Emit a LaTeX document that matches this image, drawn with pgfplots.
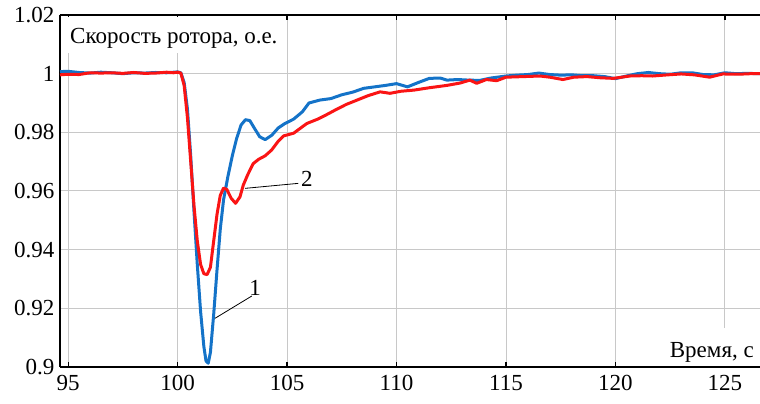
\documentclass[border=0pt]{standalone}
\usepackage{pgfplots}
\pgfplotsset{compat=1.18}
\usepackage{fontspec}
\setmainfont{Liberation Serif}

\definecolor{curveblue}{RGB}{20,115,200}
\definecolor{curvered}{RGB}{250,20,20}
\definecolor{gridgray}{RGB}{200,200,200}

\newcommand{\lbl}{\fontsize{23}{26}\selectfont}

\begin{document}
\begin{tikzpicture}
\begin{axis}[
    scale only axis,
    width=700pt, height=352pt,
    xmin=94.63, xmax=126.6,
    ymin=0.9, ymax=1.02,
    axis x line=box, axis y line=left,
    axis line style={-, line width=1.6pt, black},
    xtick={95,100,...,125},
    ytick={0.9,0.92,...,1.02},
    tick align=inside,
    major tick length=5pt,
    xtick style={line width=1.2pt, black},
    ytick style={draw=none},
    grid=major,
    major grid style={gridgray, line width=1pt},
    tick label style={font=\lbl},
    /pgf/number format/assume math mode=true,
    xticklabel style={yshift=-5pt},
    yticklabel style={xshift=-2pt},
]
\coordinate (bl) at (rel axis cs:0,0);
\coordinate (tr) at (rel axis cs:1,1);

\addplot[curveblue, line width=3pt, line join=round] coordinates {
(94.63,1.0007) (95.0,1.0008) (95.5,1.0004) (96.0,1.0002) (96.5,1.0005)
(97.0,1.0003) (97.5,1.0000) (98.0,1.0003) (98.5,1.0002) (99.0,1.0004)
(99.5,1.0003) (100.0,1.0006) (100.15,1.0003) (100.3,0.997) (100.45,0.988)
(100.6,0.972) (100.75,0.953) (100.9,0.935) (101.05,0.919) (101.2,0.907)
(101.3,0.902) (101.4,0.9013) (101.5,0.905) (101.65,0.918) (101.8,0.933)
(101.95,0.947) (102.1,0.957) (102.3,0.965) (102.5,0.972) (102.7,0.978)
(102.9,0.9825) (103.1,0.9843) (103.3,0.984) (103.5,0.9815) (103.75,0.9785)
(104.0,0.9775) (104.3,0.979) (104.6,0.9815) (104.9,0.983) (105.3,0.9845)
(105.7,0.987) (106.0,0.990) (106.5,0.991) (107.0,0.9915) (107.5,0.9928)
(108.0,0.9937) (108.5,0.995) (109.0,0.9955) (109.5,0.996) (110.0,0.9966)
(110.5,0.9955) (111.0,0.997) (111.5,0.9984) (112.0,0.9985) (112.3,0.9978)
(112.8,0.998) (113.3,0.9978) (113.8,0.9977) (114.3,0.9985) (115.0,0.9992)
(115.5,0.9995) (116.0,0.9997) (116.5,1.0002) (117.0,0.9997) (117.5,0.9995)
(118.0,0.9996) (118.5,0.9993) (119.0,0.9993) (119.5,0.999) (120.0,0.9983)
(120.5,0.9992) (121.0,1.0) (121.5,1.0004) (122.0,1.0) (122.5,0.9998)
(123.0,1.0003) (123.5,1.0003) (124.0,0.9997) (124.5,0.9996) (125.0,1.0003)
(125.5,1.0) (126.0,1.0001) (126.6,1.0)
};

\addplot[curvered, line width=3pt, line join=round] coordinates {
(94.63,0.9996) (95.0,0.9998) (95.5,0.9997) (96.0,1.0003) (96.5,1.0002)
(97.0,1.0003) (97.5,1.0001) (98.0,1.0004) (98.5,1.0001) (99.0,1.0002)
(99.5,1.0005) (99.8,1.0003) (100.0,1.0005) (100.15,1.0002) (100.3,0.996)
(100.45,0.985) (100.6,0.970) (100.75,0.955) (100.9,0.943) (101.05,0.935)
(101.2,0.9318) (101.35,0.9315) (101.5,0.934) (101.65,0.943) (101.8,0.952)
(101.95,0.9585) (102.1,0.961) (102.25,0.9605) (102.45,0.9575) (102.65,0.9558)
(102.85,0.958) (103.0,0.962) (103.2,0.9655) (103.45,0.9693) (103.7,0.9708)
(104.0,0.972) (104.3,0.974) (104.6,0.977) (104.85,0.9788) (105.3,0.9797)
(105.9,0.983) (106.4,0.9845) (106.8,0.986) (107.2,0.9876) (107.7,0.9895)
(108.2,0.991) (108.7,0.9925) (109.25,0.9938) (109.7,0.9933) (110.2,0.994)
(110.8,0.9944) (111.5,0.9952) (112.3,0.996) (112.9,0.9968) (113.35,0.9978)
(113.66,0.9967) (114.1,0.998) (114.57,0.9976) (115.0,0.9988) (115.8,0.999)
(116.55,0.9992) (117.0,0.9988) (117.6,0.998) (118.1,0.9988) (118.7,0.999)
(119.3,0.9986) (119.9,0.9984) (120.66,0.9992) (121.2,0.9993) (121.7,0.9992)
(122.4,0.9996) (123.0,0.9999) (123.6,0.9996) (124.3,0.9988) (124.9,0.9999)
(125.6,0.9998) (126.2,1.0) (126.6,1.0)
};

% white boxes behind the axis labels
\fill[white] (rel axis cs:0.003,0.892) rectangle (rel axis cs:0.323,0.995);
\node[anchor=base west, inner sep=0pt, font=\lbl]
    at (rel axis cs:0.0143,0.920) {Скорость ротора, о.е.};
\fill[white] (rel axis cs:0.857,0.004) rectangle (rel axis cs:1,0.111);
\node[anchor=base west, inner sep=0pt, font=\lbl]
    at (rel axis cs:0.871,0.028) {Время, с};

% curve numbers
\draw[black, line width=0.8pt] (axis cs:103.08,0.9609) -- (axis cs:105.51,0.9626);
\node[font=\lbl, inner sep=0pt] at (axis cs:105.9,0.9641) {2};
\draw[black, line width=0.8pt] (axis cs:101.71,0.9166) -- (axis cs:103.39,0.9242);
\node[font=\lbl, inner sep=0pt] at (axis cs:103.54,0.9268) {1};
\end{axis}
\pgfresetboundingbox
\path[use as bounding box] ([xshift=-60pt,yshift=-37pt]bl) rectangle ([yshift=15pt]tr);
\end{tikzpicture}
\end{document}
